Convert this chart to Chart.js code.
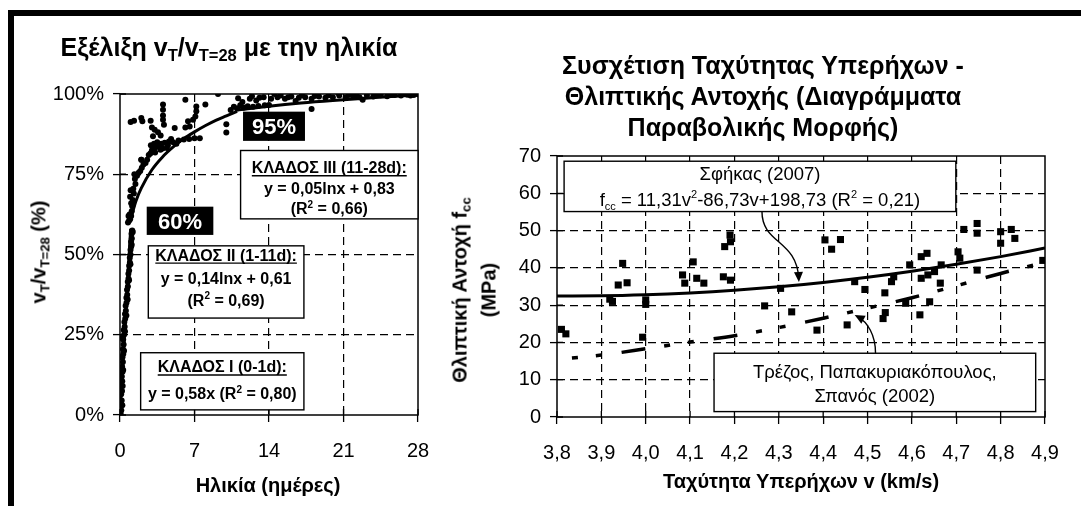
<!DOCTYPE html>
<html>
<head>
<meta charset="utf-8">
<script src="https://cdn.jsdelivr.net/npm/chart.js@4/dist/chart.umd.min.js"></script>
<style>
  html, body { margin: 0; padding: 0; background: #fff; }
  #page { position: relative; width: 1081px; height: 506px; overflow: hidden; background: #fff; }
  canvas { position: absolute; left: 0; top: 0; }
  .edge { position: absolute; background: #000; }
  .lbl { position: absolute; white-space: nowrap; color: #000;
         font-family: 'Liberation Sans', Arial, sans-serif; font-weight: bold; line-height: 1; }
  .lbl sub { font-size: 66%; vertical-align: -0.3em; }
  .rot { transform: translate(-50%, -50%) rotate(-90deg); text-align: center; }
  .ctr { transform: translate(-50%, -50%); text-align: center; }
</style>
</head>
<body>
<div id="page">
  <div class="edge" style="left:8px;top:10px;width:1073px;height:6px"></div>
  <div class="edge" style="left:8px;top:10px;width:6px;height:496px"></div>
  <canvas id="ageChart" width="1081" height="506"></canvas>
  <canvas id="velChart" width="1081" height="506"></canvas>

  <div class="lbl ctr" style="left:229px;top:49px;font-size:25px">Εξέλιξη v<sub>T</sub>/v<sub>T=28</sub> με την ηλικία</div>
  <div class="lbl rot" style="left:40px;top:252px;font-size:20px">v<sub>T</sub>/v<sub>T=28</sub> (%)</div>
  <div class="lbl ctr" style="left:268px;top:485px;font-size:20px">Ηλικία (ημέρες)</div>

  <div class="lbl ctr" style="left:763px;top:96px;font-size:25px;line-height:31px">Συσχέτιση Ταχύτητας Υπερήχων -<br>Θλιπτικής Αντοχής (Διαγράμματα<br>Παραβολικής Μορφής)</div>
  <div class="lbl rot" style="left:474px;top:290px;font-size:20px;line-height:22px">Θλιπτική Αντοχή f<sub>cc</sub><br>(MPa)</div>
  <div class="lbl ctr" style="left:801px;top:481px;font-size:20px">Ταχύτητα Υπερήχων v (km/s)</div>
</div>

<script>
// ---------- Left panel: v_T / v_T=28 against age ----------
const ageTicks = [0, 7, 14, 21, 28];
const ratioTicks = [0, 0.25, 0.5, 0.75, 1];

const sampleAge = [
  0.06, 0.12, 0.09, 0.16, 0.11, 0.19, 0.14, 0.21, 0.17, 0.24, 0.2, 0.27, 0.23, 0.31, 0.27, 0.34, 0.3, 0.38,
  0.35, 0.44, 0.41, 0.49, 0.47, 0.55, 0.53, 0.61, 0.6, 0.68, 0.66, 0.74, 0.73, 0.8, 0.79, 0.86, 0.86, 0.93,
  0.92, 0.99, 0.99, 1.05, 1.04, 1.11, 1.09, 1.15,
  0.22, 0.25, 0.3, 0.38, 0.47, 0.6, 0.72, 0.85, 0.98, 1.1, 1.2, 0.0, 0.02, 0.06, 0.1, 0.16,
  0.75, 0.85, 0.95, 0.8, 0.9, 1.05, 1.1,
  1.15, 1.2, 1.05, 1.3, 1.25, 1.45, 1.4, 1.6, 1.75, 1.9, 2.05, 2.2, 2.4, 2.55, 2.7, 2.85, 3.0, 3.2, 3.4, 3.6,
  3.9, 4.2, 4.6, 5.0, 5.5, 6.0, 6.5, 7.0, 7.5, 3.3, 3.8, 4.4, 2.9, 2.0, 1.35, 1.0, 0.95,
  3.5, 4.0, 4.5, 4.8, 5.3, 3.2,
  1.0, 1.32, 2.0, 2.1, 2.88, 3.0, 4.04, 4.04, 4.04, 4.04, 4.13, 3.26, 3.57, 3.82, 3.1, 5.14, 6.14, 7.17,
  7.17, 7.08, 6.86, 6.39, 6.55, 6.14, 8.02, 9.21, 9.99, 9.99, 2.0,
  10.4, 10.7, 11.0, 11.1, 11.3, 11.6, 12.0, 12.5, 13.0, 13.6, 14.0,
  11.5, 12.2, 12.8, 13.5, 14.2, 14.8, 15.5, 16.1, 16.8, 17.4, 18.0, 18.7, 19.3, 20.0, 20.6, 21.2, 21.9,
  22.5, 23.2, 23.8, 24.5, 25.1, 25.8, 26.4, 27.0, 27.6, 28.0, 18.0, 14.5, 20.5, 16.5, 22.8,
  12.4, 13.1, 15.1, 15.8, 17.1, 18.3, 19.6, 21.5, 22.2, 24.1, 25.5, 26.7, 27.3
];
const sampleRatio = [
  0.005, 0.015, 0.035, 0.045, 0.065, 0.075, 0.09, 0.105, 0.12, 0.135, 0.15, 0.165, 0.18, 0.19, 0.205, 0.22, 0.235, 0.25,
  0.265, 0.275, 0.29, 0.3, 0.315, 0.325, 0.34, 0.35, 0.365, 0.375, 0.39, 0.4, 0.415, 0.425, 0.44, 0.45, 0.465, 0.475,
  0.49, 0.5, 0.515, 0.525, 0.54, 0.55, 0.565, 0.575,
  0.03, 0.09, 0.14, 0.2, 0.26, 0.31, 0.36, 0.42, 0.47, 0.53, 0.57, 0.02, 0.08, 0.13, 0.18, 0.24,
  0.6, 0.605, 0.61, 0.62, 0.625, 0.62, 0.635,
  0.65, 0.67, 0.66, 0.69, 0.705, 0.72, 0.735, 0.745, 0.755, 0.76, 0.77, 0.78, 0.785, 0.795, 0.81, 0.815, 0.825, 0.83, 0.835, 0.84,
  0.845, 0.848, 0.852, 0.85, 0.855, 0.858, 0.86, 0.862, 0.862, 0.818, 0.826, 0.832, 0.84, 0.795, 0.75, 0.7, 0.68,
  0.85, 0.83, 0.84, 0.86, 0.845, 0.845,
  0.913, 0.917, 0.925, 0.915, 0.917, 0.896, 0.967, 0.951, 0.933, 0.92, 0.904, 0.889, 0.881, 0.871, 0.868, 0.894, 0.982, 0.961,
  0.946, 0.93, 0.92, 0.915, 0.899, 0.896, 0.967, 1.0, 0.906, 0.88, 0.795,
  0.95, 0.96, 0.955, 0.987, 0.965, 0.958, 0.962, 0.96, 0.963, 0.965, 0.966,
  0.975, 0.985, 0.98, 0.99, 0.985, 0.99, 0.985, 0.992, 0.988, 0.99, 0.985, 0.992, 0.988, 0.99, 0.995, 0.99, 0.993,
  0.99, 0.995, 0.992, 0.996, 0.993, 0.997, 0.995, 0.998, 0.997, 0.999, 0.953, 1.0, 1.003, 0.978, 0.982,
  0.993, 0.988, 0.995, 0.99, 0.996, 0.994, 0.996, 0.997, 0.996, 0.999, 0.998, 1.0, 0.995
];

// fitted branches as printed in the boxes
const branch1Age = [0, 1];
const branch1Ratio = [0, 0.58];
const branch2Age = [1, 1.5, 2, 3, 4, 5, 6, 7, 8, 9, 10, 11];
const branch2Ratio = [0.61, 0.667, 0.707, 0.764, 0.804, 0.835, 0.861, 0.882, 0.901, 0.918, 0.932, 0.946];
const branch3Age = [11, 14, 17, 20, 24, 28];
const branch3Ratio = [0.95, 0.962, 0.972, 0.98, 0.989, 0.997];

// ---------- Right panel: compressive strength against pulse velocity ----------
const velTicks = [3.8, 3.9, 4.0, 4.1, 4.2, 4.3, 4.4, 4.5, 4.6, 4.7, 4.8, 4.9];
const fccTicks = [0, 10, 20, 30, 40, 50, 60, 70];

const testVel = [
  3.81, 3.82, 3.948, 3.938, 3.958, 3.919, 3.925, 4.0, 4.0, 3.993, 4.107, 4.083, 4.088, 4.115, 4.131,
  4.19, 4.191, 4.178, 4.175, 4.191, 4.304, 4.268, 4.329, 4.386, 4.404, 4.439, 4.419, 4.471, 4.494, 4.454,
  4.559, 4.554, 4.539, 4.54, 4.535, 4.595, 4.586, 4.618, 4.64, 4.621, 4.634, 4.621, 4.636, 4.651, 4.666,
  4.664, 4.704, 4.708, 4.717, 4.747, 4.747, 4.747, 4.8, 4.8, 4.824, 4.832, 4.895
];
const testFcc = [
  23.5, 22.3, 41.2, 35.4, 36.0, 31.6, 31.0, 31.4, 30.2, 21.4, 41.6, 38.1, 35.9, 37.2, 35.9,
  48.8, 47.0, 45.7, 37.6, 36.7, 34.5, 29.8, 28.2, 23.3, 47.5, 47.6, 45.0, 36.3, 34.2, 24.7,
  37.6, 36.3, 33.3, 28.0, 26.4, 40.8, 30.5, 27.4, 30.9, 43.0, 43.9, 37.2, 38.1, 39.0, 40.8,
  35.9, 44.3, 42.6, 50.3, 51.9, 49.3, 39.4, 49.7, 46.6, 50.3, 47.9, 42.0
];

const curveVel = [3.8, 3.9, 4.0, 4.1, 4.2, 4.3, 4.4, 4.5, 4.6, 4.7, 4.8, 4.9];
// f_cc = 11,31v² - 86,73v + 198,73
const sfikasFcc = [32.47, 32.51, 32.77, 33.26, 33.97, 34.91, 36.08, 37.47, 39.09, 40.94, 43.01, 45.30];
const trezosFcc = [15.5, 16.6, 18.3, 20.1, 21.8, 24.0, 26.5, 29.2, 32.0, 35.2, 38.5, 41.5];

// ---------- helpers ----------
const FAMILY = "'Liberation Sans', Arial, sans-serif";
const pairs = (xs, ys) => xs.map((x, i) => ({ x, y: ys[i] }));
const fixedTicks = values => scale => { scale.ticks = values.map(v => ({ value: v })); };

function richLine(ctx, parts, cx, cy, size, weight, underline) {
  const fontFor = m => `${weight} ${m ? Math.round(size * 0.62) : size}px ${FAMILY}`;
  let w = 0;
  parts.forEach(([t, m]) => { ctx.font = fontFor(m); w += ctx.measureText(t).width; });
  let x = cx - w / 2;
  const base = cy + size * 0.36;
  ctx.textBaseline = 'alphabetic';
  ctx.textAlign = 'left';
  parts.forEach(([t, m]) => {
    ctx.font = fontFor(m);
    const dy = m === 'sub' ? size * 0.22 : m === 'sup' ? -size * 0.42 : 0;
    ctx.fillText(t, x, base + dy);
    x += ctx.measureText(t).width;
  });
  if (underline) {
    ctx.lineWidth = 1.3;
    ctx.beginPath();
    ctx.moveTo(cx - w / 2, base + 2.5);
    ctx.lineTo(cx + w / 2, base + 2.5);
    ctx.stroke();
  }
}

function boxRect(chart, x0, x1, y0, y1) {
  const xs = chart.scales.x, ys = chart.scales.y;
  const l = xs.getPixelForValue(x0), r = xs.getPixelForValue(x1);
  const t = ys.getPixelForValue(y0), b = ys.getPixelForValue(y1);
  return { l, r, t, b, w: r - l, h: b - t };
}

function drawBox(ctx, rc, fill, stroke) {
  ctx.save();
  ctx.fillStyle = fill;
  ctx.fillRect(rc.l, rc.t, rc.w, rc.h);
  if (stroke) {
    ctx.strokeStyle = stroke;
    ctx.lineWidth = 1.4;
    ctx.strokeRect(rc.l, rc.t, rc.w, rc.h);
  }
  ctx.restore();
}

// frame around the plot area and tick marks that cross the axes
const framePlugin = {
  id: 'frame',
  beforeDatasetsDraw(chart) {
    const { ctx, chartArea: a } = chart;
    ctx.save();
    ctx.strokeStyle = '#000';
    ctx.lineWidth = 1.5;
    ctx.strokeRect(a.left, a.top, a.right - a.left, a.bottom - a.top);
    ctx.lineWidth = 1.3;
    ctx.beginPath();
    chart.scales.x.ticks.forEach(t => {
      const px = chart.scales.x.getPixelForValue(t.value);
      ctx.moveTo(px, a.bottom); ctx.lineTo(px, a.bottom - 6);
    });
    chart.scales.y.ticks.forEach(t => {
      const py = chart.scales.y.getPixelForValue(t.value);
      ctx.moveTo(a.left, py); ctx.lineTo(a.left + 6, py);
    });
    ctx.stroke();
    ctx.restore();
  }
};

function axisOptions(min, max, values, fmt, dash, fitKey, fitSize, pad) {
  return {
    type: 'linear', min, max,
    afterBuildTicks: fixedTicks(values),
    afterFit: s => { s[fitKey] = fitSize; },
    border: { display: false, dash },
    grid: {
      color: c => (c.tick && (c.tick.value === min || c.tick.value === max)) ? 'rgba(0,0,0,0)' : '#000',
      tickColor: '#000', lineWidth: 1.2, tickWidth: 1.3, tickLength: 7
    },
    ticks: { color: '#000', padding: pad, font: { family: FAMILY, size: 20 }, callback: fmt, maxRotation: 0, autoSkip: false }
  };
}

const baseOptions = {
  responsive: false, animation: false, events: [],
  plugins: { legend: { display: false }, title: { display: false }, tooltip: { enabled: false } }
};

// ---------- left chart ----------
const ageAnnotations = {
  id: 'ageNotes',
  beforeDatasetsDraw(chart) {
    const ctx = chart.ctx;
    ctx.save();
    const b3 = boxRect(chart, 11.33, 28, 0.824, 0.611);
    drawBox(ctx, b3, '#fff', '#000');
    const b2 = boxRect(chart, 2.66, 17.28, 0.527, 0.302);
    drawBox(ctx, b2, '#fff', '#000');
    const b1 = boxRect(chart, 1.94, 17.28, 0.194, 0.016);
    drawBox(ctx, b1, '#fff', '#000');
    ctx.fillStyle = '#000'; ctx.strokeStyle = '#000';
    const c3 = (b3.l + b3.r) / 2, c2 = (b2.l + b2.r) / 2, c1 = (b1.l + b1.r) / 2;
    richLine(ctx, [['ΚΛΑΔΟΣ ΙΙΙ (11-28d):', '']], c3, b3.t + 17, 16, 'bold', true);
    richLine(ctx, [['y = 0,05lnx + 0,83', '']], c3, b3.t + 38, 16, 'bold');
    richLine(ctx, [['(R', ''], ['2', 'sup'], [' = 0,66)', '']], c3, b3.t + 58, 16, 'bold');
    richLine(ctx, [['ΚΛΑΔΟΣ ΙΙ (1-11d):', '']], c2, b2.t + 9, 16, 'bold', true);
    richLine(ctx, [['y = 0,14lnx + 0,61', '']], c2, b2.t + 32, 16, 'bold');
    richLine(ctx, [['(R', ''], ['2', 'sup'], [' = 0,69)', '']], c2, b2.t + 54, 16, 'bold');
    richLine(ctx, [['ΚΛΑΔΟΣ Ι (0-1d):', '']], c1, b1.t + 14, 16, 'bold', true);
    richLine(ctx, [['y = 0,58x (R', ''], ['2', 'sup'], [' = 0,80)', '']], c1, b1.t + 41, 16, 'bold');
    ctx.restore();
  },
  afterDatasetsDraw(chart) {
    const ctx = chart.ctx;
    ctx.save();
    const k95 = boxRect(chart, 11.56, 17.38, 0.945, 0.854);
    drawBox(ctx, k95, '#000');
    const k60 = boxRect(chart, 2.51, 8.77, 0.649, 0.561);
    drawBox(ctx, k60, '#000');
    ctx.fillStyle = '#fff';
    richLine(ctx, [['95%', '']], (k95.l + k95.r) / 2, (k95.t + k95.b) / 2, 22, 'bold');
    richLine(ctx, [['60%', '']], (k60.l + k60.r) / 2, (k60.t + k60.b) / 2, 22, 'bold');
    ctx.restore();
  }
};

const curveStyle = { showLine: true, pointRadius: 0, borderColor: '#000', borderWidth: 3, cubicInterpolationMode: 'monotone' };

new Chart(document.getElementById('ageChart'), {
  type: 'scatter',
  data: {
    datasets: [
      { data: pairs(sampleAge, sampleRatio), pointRadius: 3, backgroundColor: '#000', borderWidth: 0, order: 2 },
      Object.assign({ data: pairs(branch1Age, branch1Ratio), order: 1 }, curveStyle),
      Object.assign({ data: pairs(branch2Age, branch2Ratio), order: 1 }, curveStyle),
      Object.assign({ data: pairs(branch3Age, branch3Ratio), order: 1 }, curveStyle)
    ]
  },
  options: Object.assign({}, baseOptions, {
    layout: { padding: { left: 50, right: 663, top: 94, bottom: 41 } },
    scales: {
      x: axisOptions(0, 28, ageTicks, v => String(v), [8, 5], 'height', 50, 17),
      y: axisOptions(0, 1, ratioTicks, v => Math.round(v * 100) + '%', [8, 5], 'width', 70, 9)
    }
  }),
  plugins: [framePlugin, ageAnnotations]
});

// ---------- right chart ----------
function arrow(ctx, chart, pts) {
  const xs = chart.scales.x, ys = chart.scales.y;
  const p = pts.map(([v, f]) => [xs.getPixelForValue(v), ys.getPixelForValue(f)]);
  ctx.beginPath();
  ctx.moveTo(p[0][0], p[0][1]);
  ctx.bezierCurveTo(p[1][0], p[1][1], p[2][0], p[2][1], p[3][0], p[3][1]);
  ctx.stroke();
  const ang = Math.atan2(p[3][1] - p[2][1], p[3][0] - p[2][0]);
  const L = 10, W = 4.5;
  const tx = p[3][0] + Math.cos(ang) * 3, ty = p[3][1] + Math.sin(ang) * 3;
  ctx.beginPath();
  ctx.moveTo(tx, ty);
  ctx.lineTo(tx - L * Math.cos(ang) + W * Math.sin(ang), ty - L * Math.sin(ang) - W * Math.cos(ang));
  ctx.lineTo(tx - L * Math.cos(ang) - W * Math.sin(ang), ty - L * Math.sin(ang) + W * Math.cos(ang));
  ctx.closePath();
  ctx.fill();
}

const velAnnotations = {
  id: 'velNotes',
  beforeDatasetsDraw(chart) {
    const ctx = chart.ctx;
    ctx.save();
    const bs = boxRect(chart, 3.816, 4.699, 68.6, 55.1);
    drawBox(ctx, bs, '#fff', '#000');
    const bt = boxRect(chart, 4.154, 4.879, 17.1, 1.45);
    drawBox(ctx, bt, '#fff', '#000');
    ctx.fillStyle = '#000';
    const cs = (bs.l + bs.r) / 2, ct = (bt.l + bt.r) / 2;
    richLine(ctx, [['Σφήκας (2007)', '']], cs, bs.t + 12, 18.5, 'normal');
    richLine(ctx, [['f', ''], ['cc', 'sub'], [' = 11,31v', ''], ['2', 'sup'], ['-86,73v+198,73 (R', ''], ['2', 'sup'], [' = 0,21)', '']], cs, bs.t + 38, 18.5, 'normal');
    richLine(ctx, [['Τρέζος, Παπακυριακόπουλος,', '']], ct, bt.t + 18, 18.5, 'normal');
    richLine(ctx, [['Σπανός (2002)', '']], ct, bt.t + 42, 18.5, 'normal');
    ctx.restore();
  },
  afterDatasetsDraw(chart) {
    const ctx = chart.ctx;
    ctx.save();
    ctx.strokeStyle = '#000'; ctx.fillStyle = '#000'; ctx.lineWidth = 1.4;
    arrow(ctx, chart, [[4.262, 55.1], [4.262, 46.3], [4.341, 47.7], [4.345, 37.0]]);
    arrow(ctx, chart, [[4.518, 17.1], [4.518, 22.0], [4.5, 25.5], [4.477, 27.0]]);
    ctx.restore();
  }
};

new Chart(document.getElementById('velChart'), {
  type: 'scatter',
  data: {
    datasets: [
      { data: pairs(testVel, testFcc), pointStyle: 'rect', pointRadius: 5, backgroundColor: '#000', borderWidth: 0, order: 2 },
      Object.assign({ data: pairs(curveVel, sfikasFcc), order: 1 }, curveStyle, { borderWidth: 3 }),
      Object.assign({ data: pairs(curveVel, trezosFcc), order: 1 }, curveStyle,
        { borderWidth: 3.5, borderDash: [24, 19, 6, 18, 6, 20], borderDashOffset: 28 })
    ]
  },
  options: Object.assign({}, baseOptions, {
    layout: { padding: { left: 497, right: 36, top: 156, bottom: 39 } },
    scales: {
      x: axisOptions(3.8, 4.9, velTicks, v => v.toFixed(1).replace('.', ','), [8, 5], 'height', 50, 17),
      y: axisOptions(0, 70, fccTicks, v => String(v), [8, 5], 'width', 60, 9)
    }
  }),
  plugins: [framePlugin, velAnnotations]
});
</script>
</body>
</html>
